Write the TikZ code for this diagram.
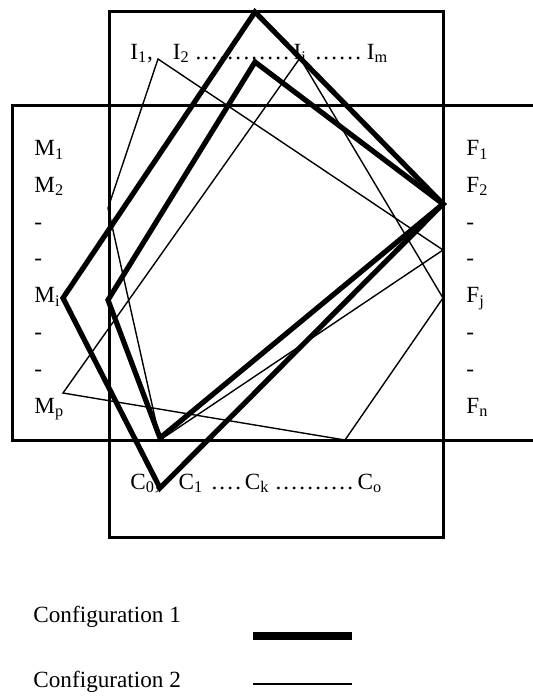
\documentclass[tikz,border=0pt]{standalone}
\usepackage{fontspec}
\setmainfont{Liberation Serif}

\newcommand{\dotrun}[1]{\leaders\hbox to 4pt{\hss.\hss}\hskip #1\relax}

\begin{document}
\begin{tikzpicture}[x=0.5pt, y=-0.5pt]
\tikzstyle{box} = [rectangle, draw=black, line width=1.5pt, inner sep=0pt]
\tikzstyle{lbl} = [inner sep=0pt, font=\fontsize{11.6}{18.4}\selectfont]
\tikzstyle{conf1} = [line width=2.6pt]
\tikzstyle{conf2} = [line width=0.7pt]
\useasboundingbox (0,0) rectangle (532,696);

% Boxes
\node (inbox) [box, minimum width=167pt, minimum height=47pt] at (276,58) {};
\node (mbox) [box, minimum width=48.5pt, minimum height=167.5pt] at (60.5,272.5) {};
\node (fbox) [box, minimum width=55pt, minimum height=167.5pt] at (498,272.5) {};
\node (cbox) [box, minimum width=167pt, minimum height=48.5pt] at (276,488.5) {};

% Labels
\node (ilist) [lbl, anchor=base west] at (130,59) {I\textsubscript{1}, \hspace{7pt}I\textsubscript{2}\dotrun{52pt}I\textsubscript{i}\dotrun{30pt}I\textsubscript{m}};
\node (mlist) [lbl, anchor=north west, align=left] at (34,140) {M\textsubscript{1}\\M\textsubscript{2}\\-\\-\\M\textsubscript{i}\\-\\-\\M\textsubscript{p}};
\node (flist) [lbl, anchor=north west, align=left] at (466,140) {F\textsubscript{1}\\F\textsubscript{2}\\-\\-\\F\textsubscript{j}\\-\\-\\F\textsubscript{n}};
\node (clist) [lbl, anchor=base west] at (130,489) {C\textsubscript{0}, \hspace{6pt}C\textsubscript{1} \dotrun{18pt}C\textsubscript{k}\dotrun{44pt}C\textsubscript{o}};

% Corners
\coordinate (t1) at (255,12);
\coordinate (t2) at (255,62);
\coordinate (f2) at (443,204);
\coordinate (c0) at (160,488);
\coordinate (b2) at (160,438);
\coordinate (mi) at (63,298);
\coordinate (l2) at (108,300);
\coordinate (i1) at (158,59);
\coordinate (ra) at (443,250);
\coordinate (ba) at (160,440);
\coordinate (la) at (108,208);
\coordinate (ii) at (300,58);
\coordinate (fj) at (443,298);
\coordinate (bb) at (345,440);
\coordinate (mp) at (63,393);

% Configurations
\draw [conf1] (t1) -- (f2) -- (c0) -- (mi) -- cycle;
\draw [conf1] (t2) -- (f2) -- (b2) -- (l2) -- cycle;
\draw [conf2] (i1) -- (ra) -- (ba) -- (la) -- cycle;
\draw [conf2] (ii) -- (fj) -- (bb) -- (mp) -- cycle;

% Legend
\node (key1) [lbl, anchor=base west] at (33,622) {Configuration 1};
\node (key2) [lbl, anchor=base west] at (33,687) {Configuration 2};
\coordinate (k1a) at (253,636);
\coordinate (k1b) at (352,636);
\coordinate (k2a) at (253,684);
\coordinate (k2b) at (352,684);
\draw [conf1, line width=3.6pt] (k1a) -- (k1b);
\draw [conf2] (k2a) -- (k2b);

\end{tikzpicture}
\end{document}
